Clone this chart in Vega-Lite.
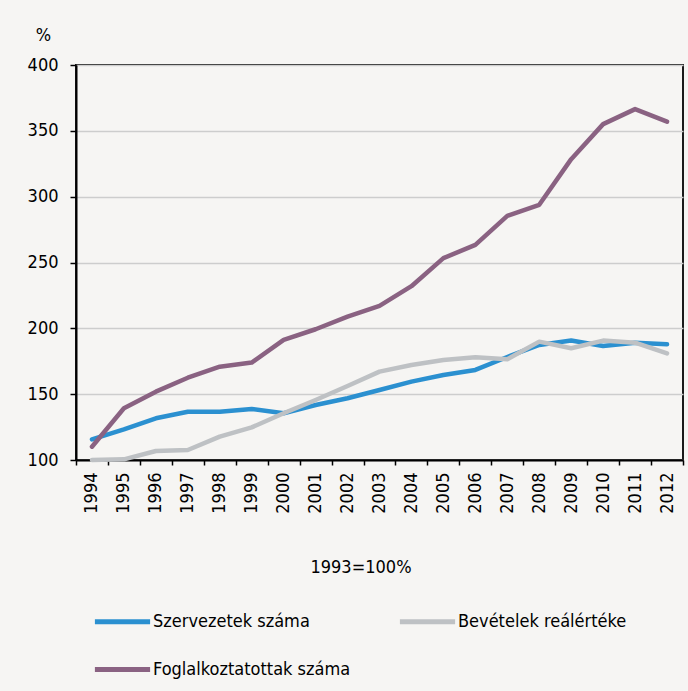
{
  "$schema": "https://vega.github.io/schema/vega-lite/v6.json",
  "background": "#f6f5f3",
  "autosize": "none",
  "padding": {"left": 76, "top": 65, "right": 5, "bottom": 231},
  "width": 607,
  "height": 395,
  "data": {
    "values": [
      {"ev": "1994", "sorozat": "Szervezetek száma", "ertek": 115.7},
      {"ev": "1995", "sorozat": "Szervezetek száma", "ertek": 123.3},
      {"ev": "1996", "sorozat": "Szervezetek száma", "ertek": 131.7},
      {"ev": "1997", "sorozat": "Szervezetek száma", "ertek": 136.7},
      {"ev": "1998", "sorozat": "Szervezetek száma", "ertek": 136.7},
      {"ev": "1999", "sorozat": "Szervezetek száma", "ertek": 138.8},
      {"ev": "2000", "sorozat": "Szervezetek száma", "ertek": 135.5},
      {"ev": "2001", "sorozat": "Szervezetek száma", "ertek": 141.8},
      {"ev": "2002", "sorozat": "Szervezetek száma", "ertek": 146.9},
      {"ev": "2003", "sorozat": "Szervezetek száma", "ertek": 153.2},
      {"ev": "2004", "sorozat": "Szervezetek száma", "ertek": 159.5},
      {"ev": "2005", "sorozat": "Szervezetek száma", "ertek": 164.6},
      {"ev": "2006", "sorozat": "Szervezetek száma", "ertek": 168.4},
      {"ev": "2007", "sorozat": "Szervezetek száma", "ertek": 178.2},
      {"ev": "2008", "sorozat": "Szervezetek száma", "ertek": 187.4},
      {"ev": "2009", "sorozat": "Szervezetek száma", "ertek": 190.7},
      {"ev": "2010", "sorozat": "Szervezetek száma", "ertek": 186.6},
      {"ev": "2011", "sorozat": "Szervezetek száma", "ertek": 189.1},
      {"ev": "2012", "sorozat": "Szervezetek száma", "ertek": 187.9},
      {"ev": "1994", "sorozat": "Bevételek reálértéke", "ertek": 100.0},
      {"ev": "1995", "sorozat": "Bevételek reálértéke", "ertek": 100.5},
      {"ev": "1996", "sorozat": "Bevételek reálértéke", "ertek": 106.8},
      {"ev": "1997", "sorozat": "Bevételek reálértéke", "ertek": 107.6},
      {"ev": "1998", "sorozat": "Bevételek reálértéke", "ertek": 117.7},
      {"ev": "1999", "sorozat": "Bevételek reálértéke", "ertek": 124.8},
      {"ev": "2000", "sorozat": "Bevételek reálértéke", "ertek": 135.5},
      {"ev": "2001", "sorozat": "Bevételek reálértéke", "ertek": 145.6},
      {"ev": "2002", "sorozat": "Bevételek reálértéke", "ertek": 156.2},
      {"ev": "2003", "sorozat": "Bevételek reálértéke", "ertek": 167.1},
      {"ev": "2004", "sorozat": "Bevételek reálértéke", "ertek": 172.2},
      {"ev": "2005", "sorozat": "Bevételek reálértéke", "ertek": 176.0},
      {"ev": "2006", "sorozat": "Bevételek reálértéke", "ertek": 178.0},
      {"ev": "2007", "sorozat": "Bevételek reálértéke", "ertek": 176.5},
      {"ev": "2008", "sorozat": "Bevételek reálértéke", "ertek": 189.9},
      {"ev": "2009", "sorozat": "Bevételek reálértéke", "ertek": 184.9},
      {"ev": "2010", "sorozat": "Bevételek reálértéke", "ertek": 190.7},
      {"ev": "2011", "sorozat": "Bevételek reálértéke", "ertek": 189.1},
      {"ev": "2012", "sorozat": "Bevételek reálértéke", "ertek": 181.0},
      {"ev": "1994", "sorozat": "Foglalkoztatottak száma", "ertek": 110.1},
      {"ev": "1995", "sorozat": "Foglalkoztatottak száma", "ertek": 139.3},
      {"ev": "1996", "sorozat": "Foglalkoztatottak száma", "ertek": 151.9},
      {"ev": "1997", "sorozat": "Foglalkoztatottak száma", "ertek": 162.5},
      {"ev": "1998", "sorozat": "Foglalkoztatottak száma", "ertek": 170.9},
      {"ev": "1999", "sorozat": "Foglalkoztatottak száma", "ertek": 174.0},
      {"ev": "2000", "sorozat": "Foglalkoztatottak száma", "ertek": 191.2},
      {"ev": "2001", "sorozat": "Foglalkoztatottak száma", "ertek": 199.3},
      {"ev": "2002", "sorozat": "Foglalkoztatottak száma", "ertek": 208.9},
      {"ev": "2003", "sorozat": "Foglalkoztatottak száma", "ertek": 217.0},
      {"ev": "2004", "sorozat": "Foglalkoztatottak száma", "ertek": 232.0},
      {"ev": "2005", "sorozat": "Foglalkoztatottak száma", "ertek": 253.3},
      {"ev": "2006", "sorozat": "Foglalkoztatottak száma", "ertek": 263.4},
      {"ev": "2007", "sorozat": "Foglalkoztatottak száma", "ertek": 285.4},
      {"ev": "2008", "sorozat": "Foglalkoztatottak száma", "ertek": 293.8},
      {"ev": "2009", "sorozat": "Foglalkoztatottak száma", "ertek": 328.5},
      {"ev": "2010", "sorozat": "Foglalkoztatottak száma", "ertek": 355.1},
      {"ev": "2011", "sorozat": "Foglalkoztatottak száma", "ertek": 366.5},
      {"ev": "2012", "sorozat": "Foglalkoztatottak száma", "ertek": 357.0}
    ]
  },
  "mark": {"type": "line", "strokeWidth": 4.5, "strokeCap": "round", "strokeJoin": "round"},
  "encoding": {
    "x": {
      "field": "ev",
      "type": "ordinal",
      "scale": {"type": "band", "paddingInner": 0, "paddingOuter": 0},
      "axis": {
        "title": null,
        "labelAngle": -90,
        "labelAlign": "right",
        "labelBaseline": "middle",
        "labelPadding": 7,
        "tickBand": "extent",
        "tickSize": 5,
        "tickColor": "#000000",
        "tickWidth": 1.5,
        "domainColor": "#000000",
        "domainWidth": 2,
        "grid": false
      }
    },
    "y": {
      "field": "ertek",
      "type": "quantitative",
      "scale": {"domain": [100, 400], "nice": false, "zero": false},
      "axis": {
        "title": "%",
        "titleAngle": 0,
        "titleAlign": "center",
        "titleBaseline": "middle",
        "titleX": -33,
        "titleY": -30,
        "titleFontWeight": "normal",
        "values": [100, 150, 200, 250, 300, 350, 400],
        "tickSize": 6,
        "tickColor": "#000000",
        "tickWidth": 1.5,
        "labelPadding": 12,
        "domainColor": "#000000",
        "domainWidth": 2,
        "grid": true,
        "gridColor": "#cdcdcd",
        "gridWidth": 1.5
      }
    },
    "color": {
      "field": "sorozat",
      "type": "nominal",
      "sort": ["Szervezetek száma", "Bevételek reálértéke", "Foglalkoztatottak száma"],
      "scale": {
        "domain": ["Szervezetek száma", "Bevételek reálértéke", "Foglalkoztatottak száma"],
        "range": ["#2b90d0", "#bec1c4", "#8a6282"]
      },
      "legend": {
        "title": "1993=100%",
        "orient": "none",
        "legendX": 20,
        "legendY": 494,
        "direction": "horizontal",
        "columns": 2,
        "columnPadding": 38,
        "rowPadding": 11,
        "titleAnchor": "middle",
        "titlePadding": 18,
        "titleFontWeight": "normal",
        "symbolType": "M-1.15,0H1.15",
        "symbolSize": 2304,
        "symbolStrokeWidth": 5,
        "labelOffset": 4,
        "labelLimit": 400
      }
    }
  },
  "config": {
    "font": "Liberation Sans Narrow, DejaVu Sans Condensed, sans-serif",
    "view": {"fill": "#f6f5f3", "stroke": "#1a1a1a", "strokeWidth": 2},
    "axis": {"labelFontSize": 18, "labelColor": "#000000", "titleFontSize": 18, "titleColor": "#000000", "labelFont": "Liberation Sans Narrow, DejaVu Sans Condensed, sans-serif", "titleFont": "Liberation Sans Narrow, DejaVu Sans Condensed, sans-serif"},
    "legend": {"labelFontSize": 18, "labelColor": "#000000", "titleFontSize": 18, "titleColor": "#000000", "labelFont": "Liberation Sans Narrow, DejaVu Sans Condensed, sans-serif", "titleFont": "Liberation Sans Narrow, DejaVu Sans Condensed, sans-serif"}
  }
}
